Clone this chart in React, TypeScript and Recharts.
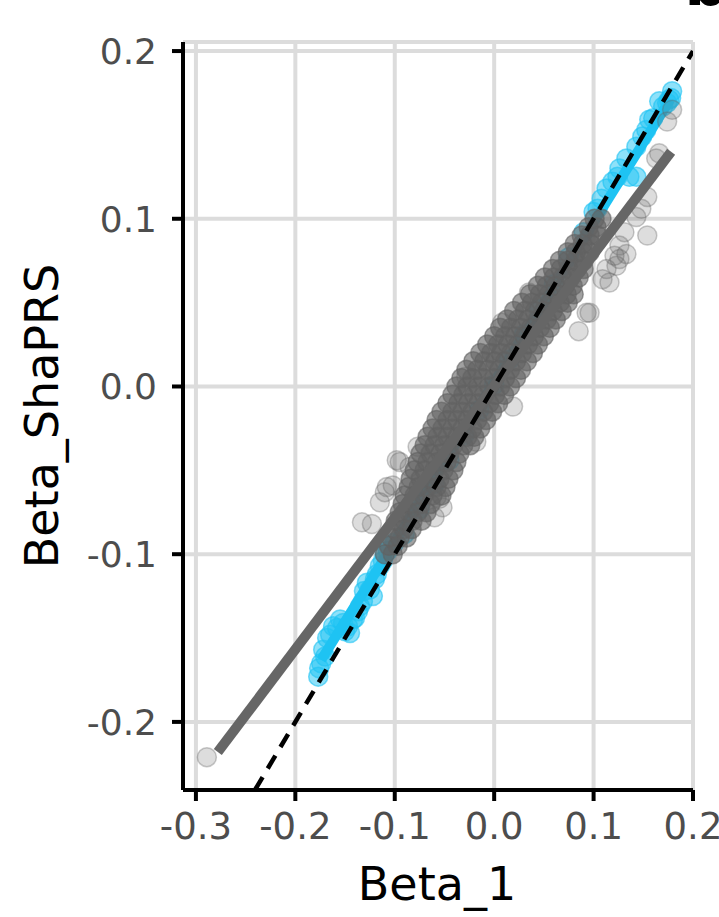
import { ScatterChart, Scatter, XAxis, YAxis, CartesianGrid, Label } from "recharts"

// axes
const xTicks = [-0.3, -0.2, -0.1, 0, 0.1, 0.2]
const yTicks = [-0.2, -0.1, 0, 0.1, 0.2]
const xDomain = [-0.313, 0.2]
const yDomain = [-0.2406, 0.2054]

// dense grey cloud, read row by row: [Beta_ShaPRS, Beta_1 values]
const grayBandRows: [number, number[]][] = [
    [-0.100, [-0.110, -0.102]],
    [-0.095, [-0.106, -0.097]],
    [-0.090, [-0.104, -0.095, -0.088]],
    [-0.085, [-0.100, -0.091, -0.083]],
    [-0.080, [-0.099, -0.090, -0.082, -0.073]],
    [-0.075, [-0.095, -0.086, -0.077, -0.068]],
    [-0.070, [-0.092, -0.083, -0.074, -0.064]],
    [-0.065, [-0.090, -0.080, -0.071, -0.062, -0.053]],
    [-0.060, [-0.086, -0.076, -0.067, -0.058, -0.049]],
    [-0.055, [-0.084, -0.074, -0.064, -0.055, -0.046]],
    [-0.050, [-0.080, -0.070, -0.060, -0.051, -0.041]],
    [-0.045, [-0.077, -0.067, -0.057, -0.048, -0.038]],
    [-0.040, [-0.074, -0.064, -0.054, -0.045, -0.035]],
    [-0.035, [-0.070, -0.060, -0.050, -0.041, -0.031, -0.024]],
    [-0.030, [-0.067, -0.057, -0.047, -0.037, -0.027, -0.020]],
    [-0.025, [-0.062, -0.052, -0.042, -0.032, -0.022, -0.014]],
    [-0.020, [-0.058, -0.047, -0.037, -0.027, -0.017, -0.008]],
    [-0.015, [-0.053, -0.042, -0.032, -0.022, -0.011, -0.002]],
    [-0.010, [-0.047, -0.036, -0.026, -0.016, -0.005, 0.004]],
    [-0.005, [-0.042, -0.031, -0.020, -0.010, 0.001, 0.010]],
    [0.000, [-0.038, -0.027, -0.016, -0.005, 0.006, 0.016]],
    [0.005, [-0.033, -0.022, -0.011, 0.000, 0.011, 0.022]],
    [0.010, [-0.028, -0.017, -0.006, 0.005, 0.016, 0.027]],
    [0.015, [-0.021, -0.010, 0.001, 0.011, 0.022, 0.033]],
    [0.020, [-0.014, -0.003, 0.007, 0.017, 0.028, 0.039]],
    [0.025, [-0.007, 0.004, 0.014, 0.024, 0.034, 0.044]],
    [0.030, [0.000, 0.011, 0.021, 0.031, 0.040, 0.050]],
    [0.035, [0.006, 0.017, 0.027, 0.037, 0.046, 0.056]],
    [0.040, [0.013, 0.024, 0.034, 0.044, 0.053, 0.062]],
    [0.045, [0.020, 0.031, 0.041, 0.050, 0.059, 0.068]],
    [0.050, [0.028, 0.038, 0.048, 0.057, 0.066, 0.074]],
    [0.055, [0.036, 0.046, 0.055, 0.064, 0.073, 0.080]],
    [0.060, [0.044, 0.053, 0.062, 0.071, 0.079]],
    [0.065, [0.051, 0.060, 0.069, 0.077, 0.085]],
    [0.070, [0.059, 0.067, 0.075, 0.083, 0.090]],
    [0.075, [0.066, 0.074, 0.082, 0.090]],
    [0.080, [0.074, 0.082, 0.089, 0.096]],
    [0.085, [0.081, 0.089, 0.097]],
    [0.090, [0.088, 0.096, 0.104]],
    [0.095, [0.095, 0.103]],
    [0.100, [0.101, 0.108]],
]

// sparse grey points around the cloud
const grayOutX = [
    -0.289, -0.133, -0.123, -0.115, -0.110, -0.102, -0.095, -0.085, -0.077, -0.055,
    -0.052, -0.060, -0.098, -0.108, -0.058, -0.018, 0.019, -0.028, 0.008, 0.035,
    0.085, 0.093, 0.096, 0.109, 0.113, 0.116, 0.121, 0.123, 0.126, 0.126,
    0.131, 0.133, 0.143, 0.148, 0.154, 0.154, 0.163, 0.166, 0.174, 0.179,
]
const grayOutY = [
    -0.221, -0.081, -0.082, -0.069, -0.063, -0.059, -0.045, -0.048, -0.036, -0.067,
    -0.072, -0.078, -0.044, -0.060, -0.066, -0.033, -0.012, 0.006, 0.038, 0.056,
    0.033, 0.044, 0.044, 0.064, 0.070, 0.062, 0.078, 0.072, 0.084, 0.076,
    0.092, 0.079, 0.101, 0.106, 0.113, 0.090, 0.136, 0.139, 0.158, 0.165,
]

// blue points
const blueX = [
    -0.177, -0.176, -0.174, -0.172, -0.170, -0.168, -0.165, -0.162, -0.158, -0.155,
    -0.152, -0.150, -0.147, -0.145, -0.142, -0.140, -0.137, -0.135, -0.132, -0.131,
    -0.128, -0.125, -0.122, -0.120, -0.118, -0.115, -0.112, -0.110, -0.107, -0.105,
    -0.100, -0.090, -0.075, -0.060, -0.045, -0.030, -0.015, 0.000, 0.015, 0.030,
    0.045, 0.060, 0.075, 0.090, 0.100, 0.104, 0.108, 0.113, 0.119, 0.124,
    0.126, 0.133, 0.136, 0.143, 0.143, 0.149, 0.153, 0.156, 0.160, 0.166,
    0.170, 0.174, 0.176, 0.178, 0.179,
]
const blueY = [
    -0.173, -0.168, -0.165, -0.157, -0.161, -0.150, -0.148, -0.143, -0.144, -0.139,
    -0.141, -0.146, -0.143, -0.147, -0.139, -0.138, -0.134, -0.131, -0.128, -0.122,
    -0.117, -0.121, -0.125, -0.115, -0.112, -0.107, -0.104, -0.100, -0.098, -0.095,
    -0.093, -0.088, -0.073, -0.058, -0.044, -0.029, -0.014, 0.001, 0.016, 0.031,
    0.046, 0.061, 0.077, 0.092, 0.104, 0.106, 0.112, 0.118, 0.122, 0.125,
    0.130, 0.136, 0.125, 0.143, 0.125, 0.149, 0.153, 0.159, 0.160, 0.170,
    0.167, 0.169, 0.171, 0.172, 0.176,
]

// fitted lines (end points) and the identity line
const grayFitX = [-0.278, 0.178]
const grayFitY = [-0.218, 0.140]
const blueFitX = [-0.174, 0.177]
const blueFitY = [-0.163, 0.171]
const identityX = [-0.2406, 0.2]
const identityY = [-0.2406, 0.2]

const zip = (xs: number[], ys: number[]) => xs.map((x, i) => ({ x, y: ys[i] }))

const grayCore = grayBandRows.flatMap(([y, xs]) => xs.map((x) => ({ x, y })))
const grayOut = zip(grayOutX, grayOutY)
const bluePts = zip(blueX, blueY)
const grayFit = zip(grayFitX, grayFitY)
const blueFit = zip(blueFitX, blueFitY)
const identity = zip(identityX, identityY)

const GRAY = "#636363"
const BLUE = "#1ec3f3"
const FONT = "DejaVu Sans"

const dot = (fill: string, fo: number, so: number) => (props: any) => (
    <circle cx={props.cx} cy={props.cy} r={9.5} fill={fill} fillOpacity={fo}
        stroke={fill} strokeOpacity={so} strokeWidth={1.5} />
)
const noDot = () => <g />

const fmt = (v: number) => v.toFixed(1)

export default function App() {
    return (
        <div style={{ position: "absolute", left: 0, top: 0, width: 719, height: 917, background: "#fff" }}>
            <ScatterChart width={719} height={917} margin={{ top: 42, right: 26, bottom: 0, left: 0 }}>
                <CartesianGrid stroke="#dcdcdc" strokeWidth={4} />
                <XAxis
                    type="number" dataKey="x" domain={xDomain} ticks={xTicks} allowDataOverflow
                    tickFormatter={fmt} height={127} tickSize={11} tickMargin={12}
                    axisLine={{ stroke: "#000", strokeWidth: 4 }}
                    tickLine={{ stroke: "#000", strokeWidth: 4 }}
                    tick={{ fill: "#4d4d4d", fontSize: 37, fontFamily: FONT }}
                >
                    <Label content={(p: any) => (
                        <text x={p.viewBox.x + p.viewBox.width / 2 - 1} y={p.viewBox.y + 110}
                            textAnchor="middle" fontSize={46} fontFamily={FONT} fill="#000">Beta_1</text>
                    )} />
                </XAxis>
                <YAxis
                    type="number" dataKey="y" domain={yDomain} ticks={yTicks} allowDataOverflow
                    tickFormatter={fmt} width={183} tickSize={11} tickMargin={15}
                    axisLine={{ stroke: "#000", strokeWidth: 4 }}
                    tickLine={{ stroke: "#000", strokeWidth: 4 }}
                    tick={{ fill: "#4d4d4d", fontSize: 36, fontFamily: FONT }}
                >
                    <Label content={(p: any) => {
                        const cx = 58
                        const cy = p.viewBox.y + p.viewBox.height / 2
                        return (
                            <text x={cx} y={cy} transform={`rotate(-90, ${cx}, ${cy})`}
                                textAnchor="middle" fontSize={46} fontFamily={FONT} fill="#000">Beta_ShaPRS</text>
                        )
                    }} />
                </YAxis>
                <Scatter data={bluePts} shape={dot(BLUE, 0.5, 0.6)} isAnimationActive={false} />
                <Scatter data={blueFit} shape={noDot} line={{ stroke: BLUE, strokeWidth: 10 }}
                    lineType="joint" isAnimationActive={false} />
                <Scatter data={grayOut} shape={dot(GRAY, 0.22, 0.35)} isAnimationActive={false} />
                <Scatter data={grayCore} shape={dot(GRAY, 0.6, 0.6)} isAnimationActive={false} />
                <Scatter data={grayFit} shape={noDot} line={{ stroke: "#666666", strokeWidth: 10 }}
                    lineType="joint" isAnimationActive={false} />
                <Scatter data={identity} shape={noDot}
                    line={{ stroke: "#000", strokeWidth: 4.5, strokeDasharray: "15 10" }}
                    lineType="joint" isAnimationActive={false} />
            </ScatterChart>
            <svg width={719} height={917} style={{ position: "absolute", left: 0, top: 0, pointerEvents: "none" }}>
                <text x={706} y={5} textAnchor="middle" fontSize={60} fontWeight="bold" fontFamily={FONT} fill="#000">b</text>
            </svg>
        </div>
    )
}
